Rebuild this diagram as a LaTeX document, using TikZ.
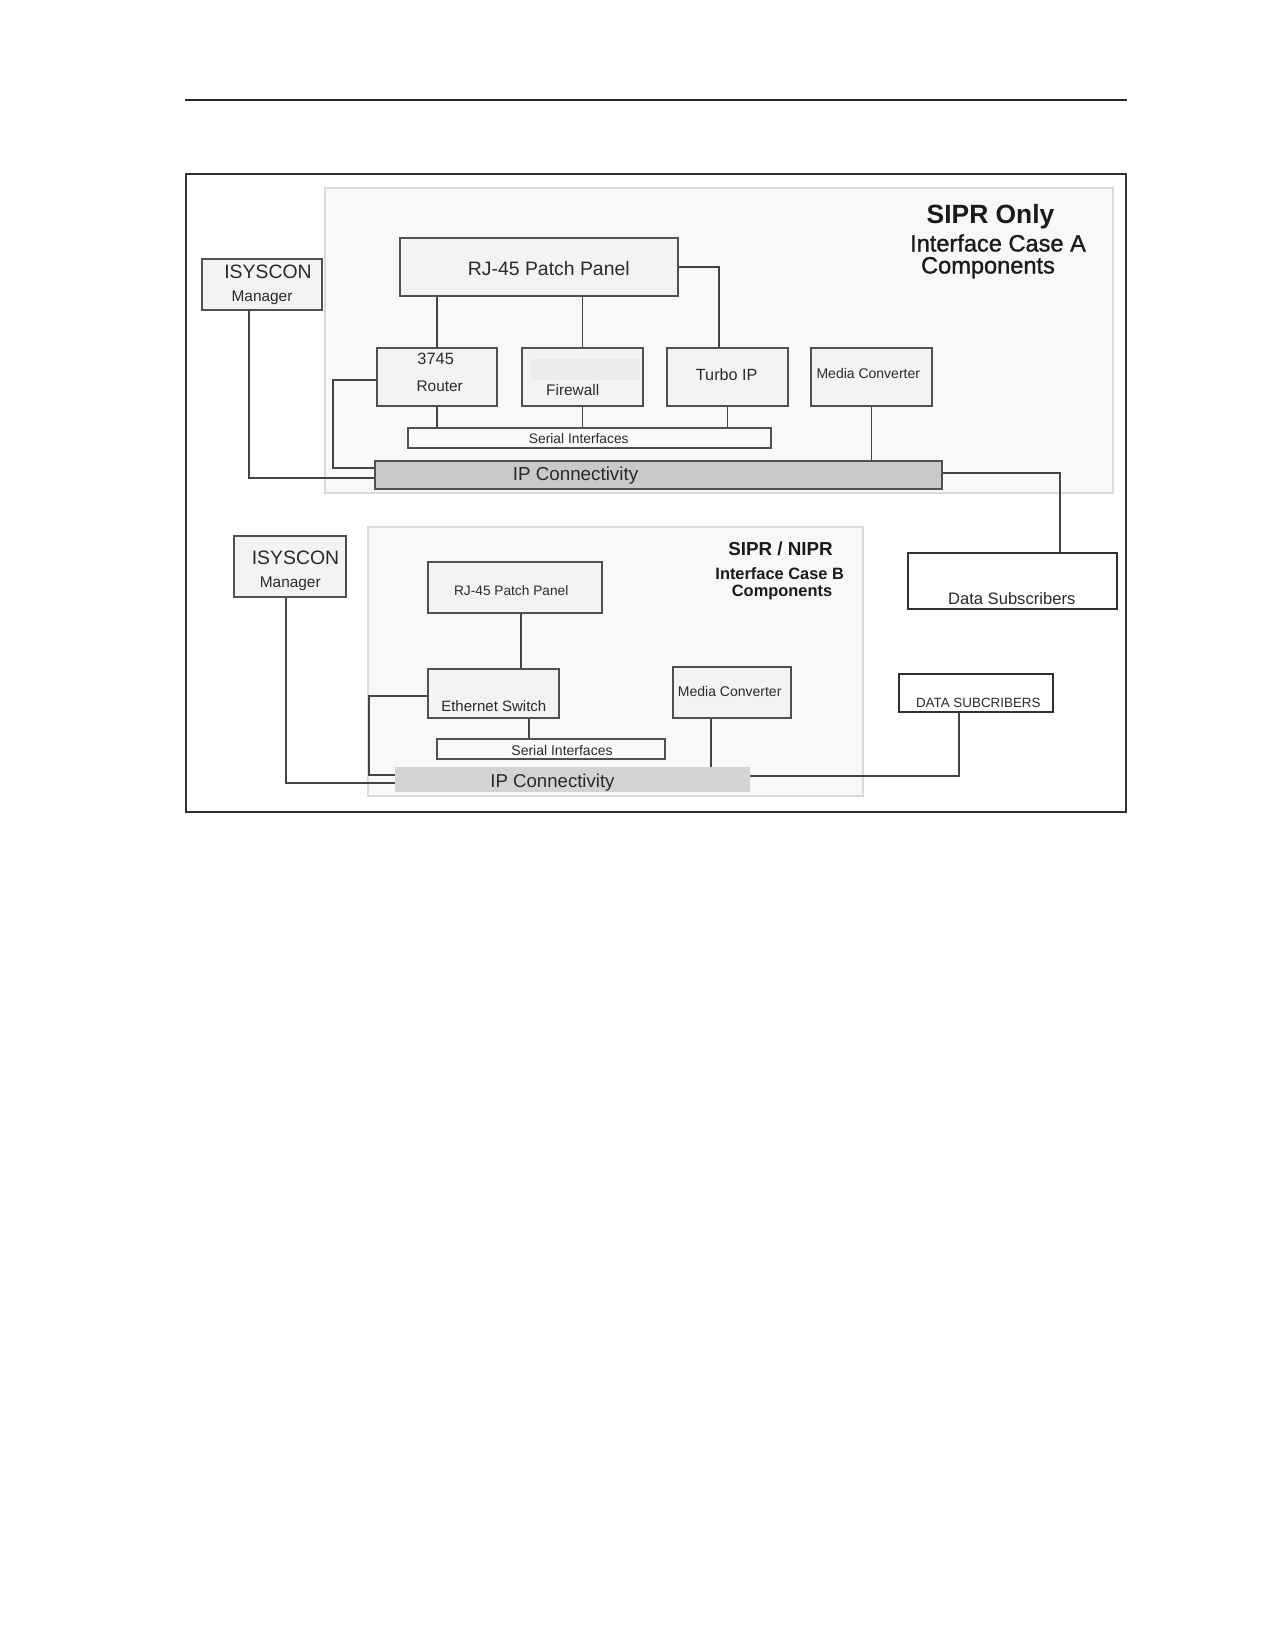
\documentclass[tikz,border=0pt]{standalone}
\usepackage{fontspec}
\setmainfont{Liberation Sans}
\newfontfamily\medfont[FakeBold=1.2]{Liberation Sans}
\usetikzlibrary{fit,calc}
\definecolor{linec}{HTML}{444444}
\definecolor{boxc}{HTML}{505050}
\definecolor{boxfill}{HTML}{F3F3F3}
\definecolor{panelfill}{HTML}{F7F8FA}
\definecolor{panelc}{HTML}{D9DADC}
\definecolor{ipfillA}{HTML}{C9C9C9}
\definecolor{ipfillB}{HTML}{D3D3D3}
\definecolor{txtc}{HTML}{2A2A2A}
\definecolor{titc}{HTML}{1A1A1A}
\definecolor{stripc}{HTML}{EBEBEB}
\begin{document}
\begin{tikzpicture}[x=0.5pt,y=-0.5pt,
  box/.style={draw=boxc, fill=boxfill, line width=0.7pt, inner sep=0pt},
  panel/.style={draw=panelc, fill=panelfill, line width=0.6pt, inner sep=0pt},
  thickbox/.style={draw=titc!90, fill=white, line width=1.1pt, inner sep=0pt},
  txt/.style={anchor=base, inner sep=0pt, text=txtc},
  ttl/.style={anchor=base, inner sep=0pt, text=titc},
  fs/.style={font=\fontsize{#1}{#1}\selectfont},
  fsb/.style={font=\fontsize{#1}{#1}\selectfont\bfseries},
  fsm/.style={font=\fontsize{#1}{#1}\selectfont\medfont},
  conn/.style={draw=linec, line width=0.7pt}]
\fill[white] (0,0) rectangle (1275,1650);
\useasboundingbox (0,0) rectangle (1275,1650);
% top rule and frame
\draw[line width=1.4pt, black!85] (185,100) -- (1127,100);
\node[draw=titc!90, line width=1pt, inner sep=0pt, fit={(186,174) (1126,812)}] (frame) {};
% panels
\node[panel, fit={(325,188) (1113,493)}] (panelA) {};
\node[panel, fit={(368,527) (863,796)}] (panelB) {};
% ---------- Case A ----------
\node[box, fit={(202,259) (322,310)}] (isyA) {};
\node[box, fit={(400,238) (678,296)}] (ppA) {};
\node[box, fit={(377,348) (497,406)}] (rA) {};
\node[box, fit={(522,348) (643,406)}] (fwA) {};
\node[fill=stripc, inner sep=0pt, fit={(531,359) (640,380)}] (fwstrip) {};
\node[box, fit={(667,348) (788,406)}] (tipA) {};
\node[box, fit={(811,348) (932,406)}] (mcA) {};
\node[box, fill=white!60!boxfill, fit={(408,428) (771,448)}] (serA) {};
\node[box, fill=ipfillA, fit={(375,461) (942,489)}] (ipA) {};
\node[thickbox, fit={(908,553) (1117,609)}] (dsA) {};
% texts A
\node[ttl, fsb=13.2] (tA1) at (990.5,223) {SIPR Only};
\node[ttl, fsm=11.8] (tA2) at (998,251.5) {Interface Case A};
\node[ttl, fsm=11.8] (tA3) at (988,273.5) {Components};
\node[txt, fs=9.7] (isyAt1) at (268,278) {ISYSCON};
\node[txt, fs=7.7] (isyAt2) at (262,301) {Manager};
\node[txt, fs=9.7] (ppAt) at (548.8,275) {RJ-45 Patch Panel};
\node[txt, fs=8.2] (rAt1) at (435.7,364) {3745};
\node[txt, fs=7.7] (rAt2) at (439.7,391.5) {Router};
\node[txt, fs=7.7] (fwAt) at (572.7,395.5) {Firewall};
\node[txt, fs=8.1] (tipAt) at (726.7,380) {Turbo IP};
\node[txt, fs=7] (mcAt) at (868.3,378) {Media Converter};
\node[txt, fs=6.9] (serAt) at (578.8,443.3) {Serial Interfaces};
\node[txt, fs=9.4] (ipAt) at (575.5,480.5) {IP Connectivity};
\node[txt, fs=8.3] (dsAt) at (1011.7,604) {Data Subscribers};
% connectors A
\coordinate (tipin) at ([xshift=-4.25pt]tipA.north);
\coordinate (isyAout) at ([xshift=-6.5pt]isyA.south);
\coordinate (dsAin) at ([xshift=23.75pt]dsA.north);
\draw[conn] (rA.north) -- (rA.north |- ppA.south);
\draw[conn] (fwA.north) -- (fwA.north |- ppA.south);
\draw[conn] (ppA.east) -| (tipin);
\draw[conn] (rA.south) -- (rA.south |- serA.north);
\draw[conn] (fwA.south) -- (fwA.south |- serA.north);
\draw[conn] (tipA.south) -- (tipA.south |- serA.north);
\draw[conn] (mcA.south) -- (mcA.south |- ipA.north);
\draw[conn] ([yshift=-1.5pt]rA.west) -| (333,468) -- ([yshift=3.5pt]ipA.west);
\draw[conn] (isyAout) |- ([yshift=-1.5pt]ipA.west);
\draw[conn] ([yshift=1pt]ipA.east) -| (dsAin);
% ---------- Case B ----------
\node[box, fit={(234,536) (346,597)}] (isyB) {};
\node[box, fit={(428,562) (602,613)}] (ppB) {};
\node[box, fit={(428,669) (559,718)}] (swB) {};
\node[box, fit={(673,667) (791,718)}] (mcB) {};
\node[box, fill=white!60!boxfill, fit={(437,739) (665,759)}] (serB) {};
\node[fill=ipfillB, inner sep=0pt, fit={(395,767) (750,792)}] (ipB) {};
\node[thickbox, fit={(899,674) (1053,712)}] (dsB) {};
% texts B
\node[ttl, fsb=9.4] (tB1) at (780.5,555) {SIPR / NIPR};
\node[ttl, fsb=8.2] (tB2) at (779.7,579.3) {Interface Case B};
\node[ttl, fsb=8.2] (tB3) at (782,596) {Components};
\node[txt, fs=9.7] (isyBt1) at (295.5,564) {ISYSCON};
\node[txt, fs=7.7] (isyBt2) at (290.3,587.3) {Manager};
\node[txt, fs=6.85] (ppBt) at (511.2,595) {RJ-45 Patch Panel};
\node[txt, fs=7.5] (swBt) at (493.8,711.7) {Ethernet Switch};
\node[txt, fs=7] (mcBt) at (729.7,696) {Media Converter};
\node[txt, fs=7] (serBt) at (562,755) {Serial Interfaces};
\node[txt, fs=9.3] (ipBt) at (552.5,787.3) {IP Connectivity};
\node[txt, fs=6.7] (dsBt) at (978.3,707.3) {DATA SUBCRIBERS};
% connectors B
\coordinate (ppBout) at ([xshift=3pt]ppB.south);
\coordinate (swBout) at ([xshift=17.75pt]swB.south);
\coordinate (mcBout) at ([xshift=-10.5pt]mcB.south);
\coordinate (isyBout) at ([xshift=-2pt]isyB.south);
\coordinate (dsBin) at ([xshift=-8.5pt]dsB.south);
\draw[conn] (ppBout) -- (ppBout |- swB.north);
\draw[conn] (swBout) -- (swBout |- serB.north);
\draw[conn] (mcBout) -- (mcBout |- ipB.north);
\draw[conn] ([yshift=-1.25pt]swB.west) -| (369,775) -- ([yshift=2.25pt]ipB.west);
\draw[conn] (isyBout) |- ([yshift=-1.75pt]ipB.west);
\draw[conn, line width=1.1pt] ([yshift=1.75pt]ipB.east) -| (dsBin);
\end{tikzpicture}
\end{document}
